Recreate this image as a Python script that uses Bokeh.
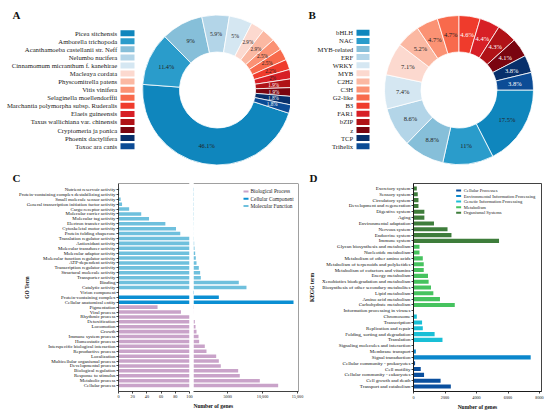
import numpy as np
from math import pi
from bokeh.plotting import figure
from bokeh.models import (Range1d, FactorRange, FixedTicker, Label, Span, Title,
                          ColumnDataSource)
from bokeh.layouts import row, column
from bokeh.embed import file_html
from bokeh.resources import INLINE
from bokeh.core.properties import value

FONT = "Liberation Serif"

# ---------------- data ----------------
species = ["Picea sitchensis", "Amborella trichopoda", "Acanthamoeba castellanii str. Neff",
           "Nelumbo nucifera", "Cinnamomum micranthum f. kanehirae", "Macleaya cordata",
           "Physcomitrella patens", "Vitis vinifera", "Selaginella moellendorffii",
           "Marchantia polymorpha subsp. Ruderalis", "Elaeis guineensis",
           "Taxus wallichiana var. chinensis", "Cryptomeria ja ponica", "Phoenix dactylifera",
           "Toxoc ara canis"]
species_pct = [46.1, 11.4, 9, 5.9, 5, 2.9, 2.9, 2.5, 2.5, 2.2, 2, 1.9, 1.9, 1.8, 1.8]

tf_families = ["bHLH", "NAC", "MYB-related", "ERF", "WRKY", "MYB", "C2H2", "C3H", "G2-like",
               "B3", "FAR1", "bZIP", "z", "TCP", "Trihelix"]
tf_pct = [17.5, 11, 8.8, 8.6, 7.4, 7.1, 5.2, 4.7, 4.7, 4.6, 4.4, 4.3, 4.1, 3.8, 3.8]

palette = ["#0f86bd", "#2a9ccb", "#86bfd9", "#b3d5e8", "#d5e7f2", "#fcd9cf", "#fbb8a2",
           "#fb9274", "#f86a4c", "#ef3b2c", "#d71f26", "#b01217", "#7a0510", "#08306b",
           "#0c4c96"]

go_terms = ["Nutrient reservoir activity", "Protein-containing complex destabilizing activity",
            "Small molecule sensor activity", "General transcription initiation factor activity",
            "Cargo receptor activity", "Molecular carrier activity", "Molecular tag activity",
            "Electron transfer activity", "Cytoskeletal motor activity", "Protein folding chaperone",
            "Translation regulator activity", "Antioxidant activity", "Molecular transducer activity",
            "Molecular adaptor activity", "Molecular function regulator activity",
            "ATP-dependent activity", "Transcription regulator activity",
            "Structural molecule activity", "Transporter activity", "Binding", "Catalytic activity",
            "Virion component", "Protein-containing complex", "Cellular anatomical entity",
            "Pigmentation", "Viral process", "Rhythmic process", "Detoxification", "Locomotion",
            "Growth", "Immune system process", "Homeostatic process",
            "Interspecific biological interaction", "Reproductive process", "Localization",
            "Multicellular organismal process", "Developmental process", "Biological regulation",
            "Response to stimulus", "Metabolic process", "Cellular process"]
go_counts = [1, 1, 3, 5, 15, 32, 43, 66, 81, 87,
             143, 195, 243, 340, 430, 530, 860, 1050, 1150, 6590, 7690,
             0, 3730, 14430,
             55, 88, 100, 290, 390, 530, 820, 910, 1720, 1960, 3350, 3730, 4010, 6500, 6730,
             9600, 12230]
go_groups = ["Molecular Function"] * 21 + ["Cellular Component"] * 3 + ["Biological Process"] * 17
go_group_names = ["Biological Process", "Cellular Component", "Molecular Function"]
go_group_colors = ["#c9a3c9", "#0b8fd3", "#6fc0dd"]
go_left_ticks = [0, 20, 40, 60, 80, 100]
go_right_ticks = [5000, 10000, 15000]
go_right_tick_labels = ["5000", "10,000", "15,000"]

kegg_terms = ["Excretory system", "Sensory system", "Circulatory system",
              "Development and regeneration", "Digestive system", "Aging",
              "Environmental adaptation", "Nervous system", "Endocrine system", "Immune system",
              "Glycan biosynthesis and metabolism", "Nucleotide metabolism",
              "Metabolism of other amino acids", "Metabolism of terpenoids and polyketides",
              "Metabolism of cofactors and vitamins", "Energy metabolism",
              "Xenobiotics biodegradation and metabolism",
              "Biosynthesis of other secondary metabolites", "Lipid metabolism",
              "Amino acid metabolism", "Carbohydrate metabolism",
              "Information processing in viruses", "Chromosome", "Transcription",
              "Replication and repair", "Folding, sorting and degradation", "Translation",
              "Signaling molecules and interaction", "Membrane transport", "Signal transduction",
              "Cellular community - prokaryotes", "Cell motility",
              "Cellular community - eukaryotes", "Cell growth and death",
              "Transport and catabolism"]
kegg_counts = [210, 270, 315, 315, 690, 690, 1300, 2160, 2410, 5430,
               380, 380, 590, 650, 650, 920, 960, 1110, 1260, 1680, 2620,
               10, 210, 545, 590, 1340, 1840,
               20, 150, 7440,
               100, 460, 670, 1720, 2370]
kegg_groups = (["Organismal Systems"] * 10 + ["Metabolism"] * 11 +
               ["Genetic Information Processing"] * 6 +
               ["Environmental Information Processing"] * 3 + ["Cellular Processes"] * 5)
kegg_group_names = ["Cellular Processes", "Environmental Information Processing",
                    "Genetic Information Processing", "Metabolism", "Organismal Systems"]
kegg_group_colors = ["#0a4f9e", "#0b87cc", "#19bfd6", "#46c35f", "#3e7d3b"]
kegg_ticks = [0, 2000, 4000, 6000, 8000]

# ---------------- helpers ----------------
TOP_H = 168
BOT_H = 244
INK = "#111111"


class Frame:
    """maps frame-pixel offsets to the figure's own data coordinates"""
    def __init__(self, x0, x1, fw, y0, y1, fh):
        self.x0, self.x1, self.fw, self.y0, self.y1, self.fh = x0, x1, fw, y0, y1, fh

    def x(self, px):
        return self.x0 + np.asarray(px, float) * (self.x1 - self.x0) / self.fw

    def y(self, px):
        return self.y0 + np.asarray(px, float) * (self.y1 - self.y0) / self.fh


def manual_legend(p, fr, names, colors, gx, tx, ys, size):
    src = ColumnDataSource(dict(n=names, c=colors, y=list(fr.y(ys))))
    p.rect(x=float(fr.x(gx)), y="y", width=float(fr.x(5) - fr.x(0)),
           height=float(fr.y(2) - fr.y(0)), fill_color="c", line_color=None, source=src)
    p.text(x=float(fr.x(tx)), y="y", text="n", text_font=value(FONT), text_font_size=size,
           text_color="#222222", text_align="left", text_baseline="middle", source=src)


def panel_title(p, text, offset):
    p.title.text = text
    p.title.align = "left"
    p.title.offset = offset
    p.title.standoff = 0
    p.title.vertical_align = "bottom"
    p.title.text_font = FONT
    p.title.text_font_size = "11px"
    p.title.text_font_style = "bold"
    p.title.text_color = INK


def donut(width, names, pct, start_deg, cx, cy, r_in, r_out, text_right, sq_cx, sq_w,
          row_top, row_step, let, let_x, sizes, light_from):
    p = figure(width=width, height=TOP_H, x_range=Range1d(0, width), y_range=Range1d(0, TOP_H),
               min_border_left=0, min_border_right=0, min_border_top=0, min_border_bottom=0,
               x_axis_location=None, y_axis_location=None, toolbar_location=None,
               output_backend="svg", outline_line_color=None)
    p.grid.visible = False
    n = len(names)
    frac = np.array(pct, float) / np.sum(pct)
    cum = np.concatenate([[0.0], np.cumsum(frac)])
    a0 = np.radians(start_deg)
    starts = a0 - 2 * np.pi * cum[:-1]
    ends = a0 - 2 * np.pi * cum[1:]
    mids = (starts + ends) / 2
    rm = (r_in + r_out) / 2
    src = ColumnDataSource(dict(
        start=starts, end=ends, color=palette[:n],
        lx=cx + rm * np.cos(mids), ly=cy + rm * np.sin(mids),
        txt=[f"{v:g}%" for v in pct], fs=sizes,
        tc=["#222222" if i < light_from else "#ffffff" for i in range(n)]))
    p.annular_wedge(x=cx, y=cy, inner_radius=r_in, outer_radius=r_out, start_angle="start",
                    end_angle="end", direction="clock", fill_color="color",
                    line_color="white", line_width=0.8, source=src)
    p.text(x="lx", y="ly", text="txt", text_font=value(FONT), text_font_size="fs",
           text_color="tc", text_align="center", text_baseline="middle", source=src)
    # legend: names (right aligned) + colour squares
    ys = [TOP_H - (row_top + row_step * i) for i in range(n)]
    lsrc = ColumnDataSource(dict(name=names, y=ys, color=palette[:n]))
    p.rect(x=sq_cx, y="y", width=sq_w, height=6, fill_color="color", line_color=None,
           source=lsrc)
    p.text(x=text_right, y="y", text="name", text_font=value(FONT), text_font_size="6.7px",
           text_color="#222222", text_align="right", text_baseline="middle", source=lsrc)
    p.add_layout(Label(x=let_x, y=TOP_H - 14.2, text=let, text_font=FONT,
                       text_font_size="11px", text_font_style="bold", text_color=INK,
                       text_align="left", text_baseline="alphabetic"))
    return p


def style_axis(ax, size, standoff=1):
    ax.major_label_text_font = FONT
    ax.major_label_text_font_size = size
    ax.major_label_text_color = INK
    ax.major_tick_out = 2
    ax.major_tick_in = 0
    ax.minor_tick_line_color = None
    ax.major_tick_line_width = 0.8
    ax.axis_line_width = 0.8
    ax.axis_line_color = INK
    ax.major_tick_line_color = INK
    ax.major_label_standoff = standoff


def axis_title(ax, text, standoff):
    ax.axis_label = text
    ax.axis_label_text_font = FONT
    ax.axis_label_text_font_size = "5.5px"
    ax.axis_label_text_font_style = "bold"
    ax.axis_label_text_color = INK
    ax.axis_label_standoff = standoff


# ---------------- A & B ----------------
pA = donut(290, species, species_pct, -18, 217, TOP_H - 89.5, 38, 75, 116.7, 127, 14,
           32.7, 8.07, "A", 12, ["6.3px"] * 3 + ["5.8px"] * 2 + ["5.2px"] * 10, 11)
pB = donut(260, tf_families, tf_pct, 0, 168.5, TOP_H - 89.5, 38, 74.5, 62.7, 72.5, 13,
           32.3, 8.1, "B", 18, ["6.5px"] * 15, 9)

# ---------------- C (broken x axis: two segments) ----------------
C_TOP, C_FH, C_BOT = 15, 210, 19
C_PAD = 0.71
nG = len(go_terms)
go_colors = [go_group_colors[go_group_names.index(g)] for g in go_groups]
yr = FactorRange(factors=go_terms[::-1], range_padding=C_PAD, range_padding_units="absolute")
go_src = ColumnDataSource(dict(term=go_terms, count=go_counts, color=go_colors))

pCL = figure(width=193, height=BOT_H, y_range=yr, x_range=Range1d(0, 100),
             min_border_left=118, min_border_right=4, min_border_top=C_TOP,
             min_border_bottom=C_BOT, toolbar_location=None, output_backend="svg",
             outline_line_color=None)
pCL.grid.visible = False
pCL.hbar(y="term", left=0, right="count", height=0.72, fill_color="color", line_color=None,
         source=go_src)
style_axis(pCL.yaxis[0], "4.9px")
style_axis(pCL.xaxis[0], "4.2px")
pCL.xaxis[0].ticker = FixedTicker(ticks=go_left_ticks)
axis_title(pCL.yaxis[0], "GO Term", -14)
pCL.add_layout(Span(location=nG + C_PAD, dimension="width", line_color=INK, line_width=0.8))
panel_title(pCL, "C", -106)

CR_END = 15143
pCR = figure(width=113, height=BOT_H, y_range=yr, x_range=Range1d(100, CR_END),
             min_border_left=0, min_border_right=8, min_border_top=C_TOP,
             min_border_bottom=C_BOT, y_axis_location=None, toolbar_location=None,
             output_backend="svg", outline_line_color=None)
pCR.grid.visible = False
frCR = Frame(100, CR_END, 105, -C_PAD, nG + C_PAD, C_FH)
pCR.hbar(y="term", left=0, right="count", height=0.72, fill_color="color", line_color=None,
         source=go_src)
style_axis(pCR.xaxis[0], "4.2px")
pCR.xaxis[0].ticker = FixedTicker(ticks=go_right_ticks)
pCR.xaxis[0].major_label_overrides = dict(zip(go_right_ticks, go_right_tick_labels))
pCR.add_layout(Span(location=nG + C_PAD, dimension="width", line_color=INK, line_width=0.8))
pCR.add_layout(Span(location=CR_END, dimension="height", line_color=INK, line_width=0.8))
manual_legend(pCR, frCR, go_group_names, go_group_colors, 52.5, 57, [202, 194.5, 187.2],
              "5.3px")
pCR.add_layout(Title(text="Number of genes", align="left", offset=0, standoff=0,
                     text_font=FONT, text_font_size="5.5px", text_font_style="bold",
                     text_color=INK), "below")

# ---------------- D ----------------
D_TOP, D_FH, D_BOT = 15, 208, 21
D_PAD = 0.359
nK = len(kegg_terms)
D_END = 8126
pD = figure(width=244, height=BOT_H,
            y_range=FactorRange(factors=kegg_terms[::-1], range_padding=D_PAD,
                                range_padding_units="absolute"),
            x_range=Range1d(0, D_END), min_border_left=106, min_border_right=9,
            min_border_top=D_TOP, min_border_bottom=D_BOT, toolbar_location=None,
            output_backend="svg", outline_line_color=INK, outline_line_width=0.8)
pD.grid.visible = False
frD = Frame(0, D_END, 129, -D_PAD, nK + D_PAD, D_FH)
kegg_colors = [kegg_group_colors[kegg_group_names.index(g)] for g in kegg_groups]
pD.hbar(y="term", left=0, right="count", height=0.7, fill_color="color", line_color=None,
        source=ColumnDataSource(dict(term=kegg_terms, count=kegg_counts, color=kegg_colors)))
style_axis(pD.yaxis[0], "5px")
style_axis(pD.xaxis[0], "4.2px", standoff=2)
pD.xaxis[0].ticker = FixedTicker(ticks=kegg_ticks)
axis_title(pD.yaxis[0], "KEGG term", 4)
axis_title(pD.xaxis[0], "Number of genes", 2)
manual_legend(pD, frD, kegg_group_names, kegg_group_colors, 45.5, 50.7,
              [201, 195.4, 189.9, 184.3, 178.7], "4.6px")
panel_title(pD, "D", -104)

layout = column(row(pA, pB), row(pCL, pCR, pD))
open("out.html", "w").write(file_html(layout, INLINE))
